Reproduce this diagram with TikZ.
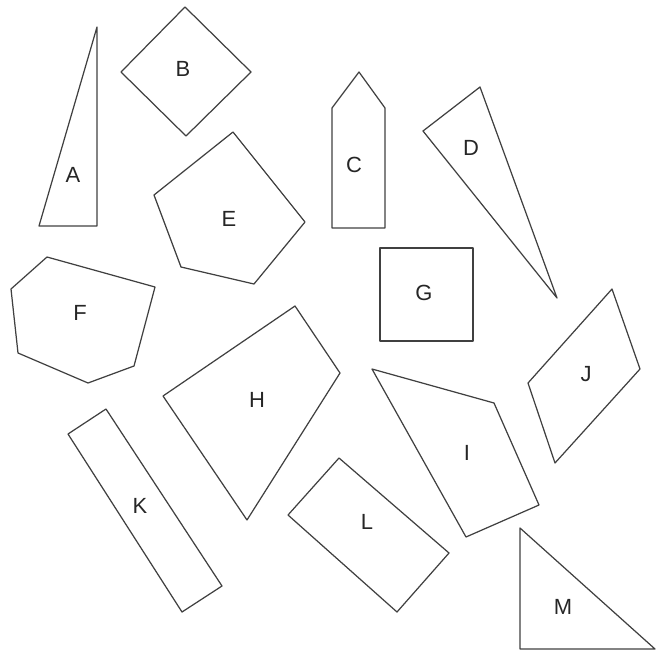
\documentclass[tikz,border=0pt]{standalone}
\usepackage{fontspec}
\setmainfont{Liberation Sans}
\usepackage{tikz}

\tikzset{
	piece/.style={draw=black!75, line width=0.7pt, line join=round},
	lbl/.style={font=\fontsize{12.5}{14}\selectfont, text=black!85, inner sep=0pt}
}

\begin{document}
\begin{tikzpicture}[x=0.02cm, y=-0.02cm]
		
		% Fix the page to the size of the reference
		\useasboundingbox (0, 0) rectangle (656, 653);
		
		% Triangles
		\draw[piece] (97, 27) -- (39, 226) -- (97, 226) -- cycle;
		\draw[piece] (480, 87) -- (423, 131) -- (557, 298) -- cycle;
		\draw[piece] (520, 528) -- (520, 649) -- (655, 649) -- cycle;
		
		% Quadrilaterals
		\draw[piece] (185, 7) -- (251, 72) -- (186, 136) -- (121, 72) -- cycle;
		\draw[piece] (380, 248) rectangle (473, 341);
		\draw[piece] (295, 306) -- (340, 373) -- (247, 520) -- (163, 396) -- cycle;
		\draw[piece] (372, 369) -- (494, 403) -- (539, 505) -- (466, 537) -- cycle;
		\draw[piece] (612, 289) -- (640, 369) -- (555, 463) -- (528, 383) -- cycle;
		\draw[piece] (106, 409) -- (222, 586) -- (182, 612) -- (68, 434) -- cycle;
		\draw[piece] (339, 458) -- (449, 553) -- (397, 612) -- (288, 515) -- cycle;
		
		% Pentagons and hexagon
		\draw[piece] (359, 72) -- (385, 108) -- (385, 228) -- (332, 228) -- (332, 108) -- cycle;
		\draw[piece] (233, 132) -- (305, 222) -- (254, 284) -- (181, 267) -- (154, 195) -- cycle;
		\draw[piece] (47, 257) -- (155, 287) -- (134, 366) -- (88, 383) -- (18, 353) -- (11, 289) -- cycle;
		
		% Letters
		\node[lbl] (a) at (73, 175) {A};
		\node[lbl] (b) at (183, 69) {B};
		\node[lbl] (c) at (354, 165) {C};
		\node[lbl] (d) at (471, 148) {D};
		\node[lbl] (e) at (229, 219) {E};
		\node[lbl] (f) at (80, 313) {F};
		\node[lbl] (g) at (424, 293) {G};
		\node[lbl] (h) at (257, 400) {H};
		\node[lbl] (i) at (467, 453) {I};
		\node[lbl] (j) at (586, 374) {J};
		\node[lbl] (k) at (140, 506) {K};
		\node[lbl] (l) at (367, 522) {L};
		\node[lbl] (m) at (563, 607) {M};
	\end{tikzpicture}
\end{document}
